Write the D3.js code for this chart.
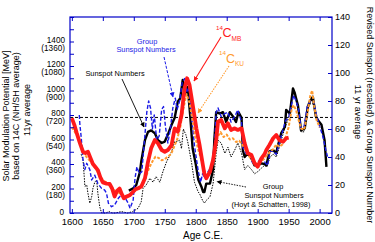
<!DOCTYPE html>
<html>
<head>
<meta charset="utf-8">
<script src="https://cdn.jsdelivr.net/npm/d3@7"></script>
<style>
  body { margin: 0; background: #fff; }
  svg { display: block; font-family: "Liberation Sans", Arial, sans-serif; }
</style>
</head>
<body>
<div id="chart"></div>
<script>
// ---- data ----
// 14C MB solar modulation potential [MeV], left axis
const c14mb = [
  [1600,775],[1604,720],[1608,650],[1613,570],[1618,500],[1622,490],[1626,500],[1630,450],
  [1634,400],[1638,375],[1642,350],[1646,290],[1650,250],[1656,240],[1661,237],[1665,200],
  [1669,135],[1673,180],[1677,200],[1681,150],[1684,120],[1688,133],[1694,147],[1699,174],
  [1703,195],[1707,202],[1712,215],[1718,283],[1723,419],[1728,528],[1734,596],[1739,569],
  [1745,514],[1750,500],[1755,514],[1761,555],[1766,691],[1771,664],[1777,800],[1782,1018],
  [1786,1100],[1790,1045],[1796,855],[1801,691],[1806,560],[1812,378],[1814,320],[1817,283],
  [1823,337],[1828,433],[1833,596],[1836,745],[1841,759],[1847,691],[1852,732],[1857,678],
  [1863,691],[1868,678],[1874,691],[1879,569],[1884,487],[1890,473],[1895,406],[1900,378],
  [1906,446],[1911,480],[1914,514],[1919,555],[1925,610],[1930,637],[1935,596],[1941,582],
  [1946,610],[1950,615]
];
// 14C KU, left axis
const c14ku = [
  [1600,700],[1605,660],[1610,620],[1615,540],[1620,480],[1625,450],[1630,420],[1635,390],
  [1640,350],[1645,300],[1650,270],[1655,250],[1660,230],[1665,200],[1670,180],[1675,170],
  [1680,150],[1685,140],[1690,140],[1695,160],[1700,180],[1705,190],[1710,200],[1715,240],
  [1720,300],[1725,370],[1730,420],[1735,460],[1740,450],[1745,430],[1750,440],[1755,460],
  [1760,480],[1765,540],[1770,600],[1775,700],[1780,850],[1785,970],[1790,900],[1795,750],
  [1800,600],[1805,500],[1810,420],[1815,330],[1820,320],[1825,370],[1830,450],[1835,620],
  [1840,660],[1845,620],[1850,640],[1855,600],[1860,610],[1865,580],[1870,590],[1875,560],
  [1880,520],[1885,470],[1890,440],[1895,410],[1900,400],[1905,420],[1910,440],[1915,470],
  [1920,500],[1925,520],[1930,560],[1935,540],[1940,560],[1945,620],[1950,700],[1955,850],
  [1958,880],[1962,840],[1966,760],[1970,690],[1975,680],[1980,800],[1985,960],[1988,1000],
  [1991,880],[1995,760],[2000,700]
];
// revised sunspot numbers (rescaled), right axis
const sunspots = [
  [1692,16],[1699,17.6],[1704,20],[1710,29.5],[1712,36.7],[1718,52],[1723,58],[1728,59],
  [1734,57],[1739,52],[1745,50],[1750,51],[1755,56],[1761,63],[1766,68],[1771,79.5],
  [1775,82],[1779,95],[1783,85],[1787,90],[1791,70],[1795,46],[1800,35],[1804,24],
  [1809,19],[1812,15],[1814,15],[1817,21],[1823,21],[1828,31],[1830,52],[1833,72],
  [1839,71],[1844,72],[1849,65],[1855,72],[1860,69],[1865,65],[1869,72],[1874,68],
  [1876,45],[1879,40],[1884,42.6],[1890,39],[1895,34],[1900,34],[1906,35.5],[1911,35],
  [1914,34],[1919,44],[1925,45],[1930,42.6],[1932,47],[1938,57],[1944,61.6],[1946,73.6],
  [1952,71],[1957,89],[1960,85.5],[1962,82],[1965,77],[1970,59],[1976,60.5],[1981,76],
  [1984,79.5],[1989,83],[1994,69],[1997,66.4],[2003,63],[2008,52],[2011,33]
];
// revised group sunspot numbers, right axis
const groupSunspots = [
  [1612,70],[1613,63],[1615,54.5],[1618,38],[1621,31],[1624,35.5],[1629,31],[1632,23.6],
  [1637,27],[1642,21],[1648,17.6],[1653,16.4],[1656,14],[1659,7],[1664,4.5],[1669,5.7],
  [1675,10.5],[1680,13],[1685,11.6],[1691,7],[1694,3.4],[1699,9.3],[1702,25],[1705,33],
  [1709,28],[1713,29.5],[1718,56],[1721,72],[1724,80],[1727,75],[1730,60],[1733,70],
  [1737,52],[1741,55],[1745,74],[1748,76],[1751,62],[1755,50],[1759,60],[1763,75],
  [1767,82],[1770,74],[1774,80],[1778,93],[1782,96],[1786,86],[1789,90],[1793,70],
  [1798,48],[1804,30],[1808,22],[1811,28],[1814,25],[1820,29.5],[1825,33],[1830,47],
  [1833,72],[1836,75],[1841,69],[1847,71],[1852,72],[1857,65],[1863,69],[1868,73.6],
  [1874,65],[1876,47],[1881,42.6],[1887,42.6],[1892,35.5],[1898,34],[1903,38],[1908,40],
  [1912,36],[1916,34],[1920,44],[1925,44],[1930,42],[1935,50],[1940,58],[1945,66],
  [1950,68],[1955,78],[1958,84],[1962,80],[1966,74],[1970,60],[1975,62],[1980,76],
  [1985,80],[1990,80],[1995,70],[2000,62],[2005,55],[2010,45],[2013,40]
];
// group sunspot numbers (Hoyt & Schatten, 1998), right axis
const hoytSchatten = [
  [1615,42],[1618,38],[1620,26],[1621,19],[1624,20],[1626,14],[1629,7],[1632,11.6],
  [1634,17.6],[1637,22],[1640,23.6],[1642,14],[1645,4.5],[1648,0],[1655,0],[1660,1],
  [1665,0],[1670,0],[1680,1],[1690,0],[1698,1],[1702,2],[1707,3.4],[1712,8],[1715,17.6],
  [1720,20],[1726,24.8],[1731,22],[1736,26],[1742,22],[1747,29.5],[1753,36.7],[1758,41],
  [1761,43.8],[1766,51],[1769,51],[1774,52],[1777,46],[1780,60],[1784,56],[1787,51],
  [1793,36.7],[1798,22],[1804,15],[1806,14],[1811,9],[1814,7],[1817,9],[1823,11.6],
  [1828,21],[1833,42.6],[1836,52],[1841,50],[1847,42.6],[1852,47],[1857,40],[1863,45],
  [1868,50],[1874,42.6],[1879,31],[1884,34],[1890,31],[1895,28],[1900,29.5],[1906,32],
  [1911,34],[1915,33],[1920,40],[1925,42],[1930,40],[1935,47],[1940,55],[1945,62],
  [1950,68],[1955,82],[1958,86],[1962,80],[1966,72],[1970,58],[1975,58],[1980,74],
  [1985,78],[1990,78],[1995,68]
];
const referenceLevel = 780; // dashed horizontal, left axis units

const yearTicks = d3.range(1600, 2001, 50);
const leftTicks = [0, 200, 400, 600, 800, 1000, 1200, 1400];
const leftTicksAlt = ["", "(180)", "(360)", "(540)", "(720)", "(900)", "(1080)", "(1360)"];
const rightTicks = [0, 20, 40, 60, 80, 100, 120, 140];

// ---- layout ----
const W = 375, H = 242;
const plot = { left: 70, right: 332, top: 17, bottom: 213 };
const axisBlue = "#0000c8";

const svg = d3.select("#chart").append("svg")
  .attr("width", W).attr("height", H);

const x = d3.scaleLinear().domain([1597, 2020]).range([plot.left, plot.right]);
const yL = d3.scaleLinear().domain([0, 1600]).range([plot.bottom, plot.top]);
const yR = d3.scaleLinear().domain([0, 140]).range([plot.bottom, plot.top]);

// arrow markers
const defs = svg.append("defs");
[["blk", "#000"], ["blu", "#1a1ae6"], ["red", "#ff1a1a"], ["org", "#ff9a2e"]].forEach(([id, c]) => {
  defs.append("marker")
    .attr("id", "arr-" + id)
    .attr("viewBox", "0 0 10 10")
    .attr("refX", 9).attr("refY", 5)
    .attr("markerWidth", 5).attr("markerHeight", 5)
    .attr("markerUnits", "userSpaceOnUse")
    .attr("orient", "auto")
    .append("path").attr("d", "M0,0L10,5L0,10z").attr("fill", c);
});

// ---- series ----
const lineL = d3.line().x(d => x(d[0])).y(d => yL(d[1]));
const lineR = d3.line().x(d => x(d[0])).y(d => yR(d[1]));

svg.append("line")
  .attr("x1", plot.left).attr("x2", plot.right)
  .attr("y1", yL(referenceLevel)).attr("y2", yL(referenceLevel))
  .attr("stroke", "#000").attr("stroke-width", 1).attr("stroke-dasharray", "3,2");

const series = [
  { data: hoytSchatten, gen: lineR, color: "#000", width: 1, dash: "1.5,1.2" },
  { data: sunspots, gen: lineR, color: "#000", width: 2.4, dash: null },
  { data: groupSunspots, gen: lineR, color: "#1a1ae6", width: 1.4, dash: "4,2" },
  { data: c14ku, gen: lineL, color: "#ff9a2e", width: 2, dash: "3,1.5" },
  { data: c14mb, gen: lineL, color: "#ff1a1a", width: 3.8, dash: null }
];
svg.append("g").selectAll("path")
  .data(series)
  .join("path")
  .attr("d", d => d.gen(d.data))
  .attr("fill", "none")
  .attr("stroke", d => d.color)
  .attr("stroke-width", d => d.width)
  .attr("stroke-dasharray", d => d.dash)
  .attr("stroke-linejoin", "round");

// ---- axes ----
function styleAxis(g) {
  g.select(".domain").remove();
  g.selectAll(".tick line").attr("stroke", axisBlue).attr("stroke-width", 1);
  g.selectAll("text").attr("fill", "#000").attr("font-family", "Liberation Sans, Arial, sans-serif");
}

svg.append("g")
  .attr("transform", `translate(0,${plot.bottom})`)
  .call(d3.axisBottom(x).tickValues(yearTicks).tickSize(-4).tickPadding(5).tickFormat(d3.format("d")))
  .call(styleAxis)
  .selectAll("text").attr("font-size", 9.5);

svg.append("g")
  .attr("transform", `translate(0,${plot.top})`)
  .call(d3.axisTop(x).tickValues(yearTicks).tickSize(-4).tickFormat(""))
  .call(styleAxis);

svg.append("g")
  .attr("transform", `translate(${plot.left},0)`)
  .call(d3.axisLeft(yL).tickValues(d3.range(0, 1601, 100)).tickSize(-4).tickFormat(""))
  .call(styleAxis);

svg.append("g")
  .attr("transform", `translate(${plot.right},0)`)
  .call(d3.axisRight(yR).tickValues(rightTicks).tickSize(-4).tickPadding(3))
  .call(styleAxis)
  .selectAll("text").attr("font-size", 9);

// two-line left tick labels (one text element each, second line as tspan)
const leftLab = svg.append("g")
  .attr("font-size", 8.2).attr("text-anchor", "end");
leftTicks.forEach((v, i) => {
  if (i === 0) {
    leftLab.append("text").attr("x", 64).attr("y", yL(v) + 1.5).text(v);
  } else {
    const t = leftLab.append("text").attr("x", 65).attr("y", yL(v) + 1);
    t.append("tspan").attr("x", 65).text(v);
    t.append("tspan").attr("x", 65).attr("dy", 8).text(leftTicksAlt[i]);
  }
});

svg.append("rect")
  .attr("x", plot.left).attr("y", plot.top)
  .attr("width", plot.right - plot.left).attr("height", plot.bottom - plot.top)
  .attr("fill", "none").attr("stroke", axisBlue).attr("stroke-width", 1.2);

// ---- axis titles ----
svg.append("text")
  .attr("x", 203).attr("y", 238.5)
  .attr("text-anchor", "middle").attr("font-size", 10)
  .text("Age C.E.");

const leftTitle = ["Solar Modulation Potential [MeV]", "based on 14C (NH/SH average)", "11yr average"];
const leftTitleX = [8.8, 19.3, 30];
const leftTitleY = [116, 116, 110];
leftTitle.forEach((t, i) => {
  svg.append("text")
    .attr("transform", `translate(${leftTitleX[i]},${leftTitleY[i]}) rotate(-90)`)
    .attr("text-anchor", "middle").attr("font-size", 9)
    .text(t);
});

const rightTitle = ["Revised Sunspot (rescaled) & Group Sunspot Number", "11 yr average"];
const rightTitleX = [367, 355];
const rightTitleY = [115, 112];
rightTitle.forEach((t, i) => {
  svg.append("text")
    .attr("transform", `translate(${rightTitleX[i]},${rightTitleY[i]}) rotate(90)`)
    .attr("text-anchor", "middle").attr("font-size", 9)
    .text(t);
});

// ---- annotations ----
const ann = svg.append("g").attr("font-size", 7.4);

// Sunspot Numbers (black)
ann.append("text").attr("x", 115).attr("y", 75.5).attr("text-anchor", "middle").text("Sunspot Numbers");
ann.append("line").attr("x1", 122).attr("y1", 79).attr("x2", 144).attr("y2", 127)
  .attr("stroke", "#000").attr("stroke-width", 0.9).attr("marker-end", "url(#arr-blk)");

// Group Sunspot Numbers (blue)
ann.append("text").attr("x", 147).attr("y", 43.5).attr("text-anchor", "middle").attr("fill", "#1a1ae6").text("Group");
ann.append("text").attr("x", 146).attr("y", 52).attr("text-anchor", "middle").attr("fill", "#1a1ae6").text("Sunspot Numbers");
ann.append("line").attr("x1", 164).attr("y1", 57).attr("x2", 173).attr("y2", 97)
  .attr("stroke", "#1a1ae6").attr("stroke-width", 1).attr("stroke-dasharray", "3,1.5")
  .attr("marker-end", "url(#arr-blu)");

// 14C MB (red)
ann.append("text").attr("x", 216).attr("y", 29.5).attr("font-size", 6.2).attr("fill", "#ff1a1a").text("14");
ann.append("text").attr("x", 222.5).attr("y", 36.7).attr("font-size", 12.5).attr("fill", "#ff1a1a").text("C");
ann.append("text").attr("x", 231.5).attr("y", 41).attr("font-size", 6.5).attr("fill", "#ff1a1a").text("MB");
ann.append("line").attr("x1", 221).attr("y1", 37).attr("x2", 194).attr("y2", 81)
  .attr("stroke", "#ff1a1a").attr("stroke-width", 1.1).attr("marker-end", "url(#arr-red)");

// 14C KU (orange)
ann.append("text").attr("x", 219).attr("y", 54.5).attr("font-size", 6.2).attr("fill", "#ff9a2e").text("14");
ann.append("text").attr("x", 226).attr("y", 62.7).attr("font-size", 12.5).attr("fill", "#ff9a2e").text("C");
ann.append("text").attr("x", 235).attr("y", 65.5).attr("font-size", 6.5).attr("fill", "#ff9a2e").text("KU");
ann.append("line").attr("x1", 229).attr("y1", 66).attr("x2", 198).attr("y2", 113)
  .attr("stroke", "#ff9a2e").attr("stroke-width", 1.1).attr("stroke-dasharray", "1.5,1.2")
  .attr("marker-end", "url(#arr-org)");

// Group Sunspot Numbers (Hoyt & Schatten)
ann.append("text").attr("x", 273).attr("y", 188.5).attr("text-anchor", "middle").text("Group");
ann.append("text").attr("x", 274).attr("y", 197.5).attr("text-anchor", "middle").text("Sunspot Numbers");
ann.append("text").attr("x", 271).attr("y", 207).attr("text-anchor", "middle").text("(Hoyt & Schatten, 1998)");
ann.append("line").attr("x1", 246).attr("y1", 187).attr("x2", 217).attr("y2", 181.5)
  .attr("stroke", "#000").attr("stroke-width", 0.9).attr("stroke-dasharray", "1.5,1.2")
  .attr("marker-end", "url(#arr-blk)");
</script>
</body>
</html>
